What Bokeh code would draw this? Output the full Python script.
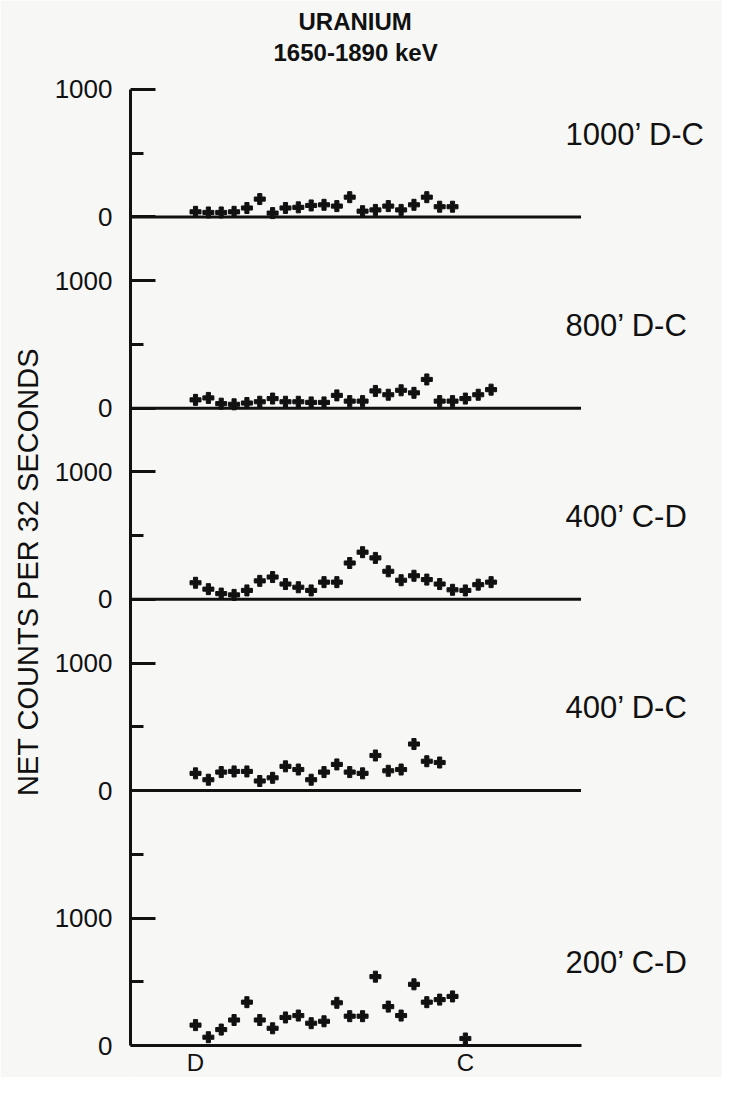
from bokeh.plotting import figure
from bokeh.models import FixedTicker, Title, Range1d
from bokeh.embed import file_html
from bokeh.resources import INLINE
from bokeh.core.properties import value

# ---- data ----
title_line1 = "URANIUM"
title_line2 = "1650-1890 keV"
y_axis_label = "NET COUNTS PER 32 SECONDS"

panel_labels = ["1000\u2019 D-C", "800\u2019 D-C", "400\u2019 C-D", "400\u2019 D-C", "200\u2019 C-D"]
panel_offsets = [6500, 5000, 3500, 2000, 0]

counts_1000_dc = [40, 35, 35, 40, 70, 140, 30, 70, 75, 90, 95, 85, 155, 45, 55, 85, 55, 95, 155, 80, 80]
counts_800_dc = [65, 80, 35, 30, 40, 50, 75, 50, 50, 45, 45, 100, 55, 55, 135, 105, 140, 120, 225, 55, 55, 75, 105, 145]
counts_400_cd = [130, 80, 45, 35, 70, 145, 175, 120, 95, 70, 135, 135, 285, 370, 325, 220, 150, 185, 155, 120, 75, 70, 115, 135]
counts_400_dc = [135, 85, 145, 150, 150, 75, 100, 190, 165, 85, 145, 205, 145, 135, 275, 155, 165, 365, 230, 220]
counts_200_cd = [160, 65, 125, 200, 340, 200, 135, 220, 235, 175, 190, 335, 230, 230, 540, 305, 235, 480, 340, 360, 385, 55]

panel_counts = [counts_1000_dc, counts_800_dc, counts_400_cd, counts_400_dc, counts_200_cd]

x_tick_positions = [0, 21]
x_tick_labels = ["D", "C"]
y_tick_label_zero = "0"
y_tick_label_top = "1000"

# ---- figure ----
FONT = "Liberation Sans"
INK = "#111111"
BG = "#f7f7f5"

x_start = -5.06
x_end = 41.01
line_end = 30.0

p = figure(width=722, height=1077, title=None,
           x_range=Range1d(x_start, x_end), y_range=Range1d(-251, 7680),
           output_backend="svg", toolbar_location=None,
           min_border_left=130, min_border_right=0,
           min_border_top=66, min_border_bottom=0)
p.background_fill_color = BG
p.border_fill_color = BG
p.outline_line_color = None
p.xgrid.visible = False
p.ygrid.visible = False

# titles (first added sits closest to the frame)
p.add_layout(Title(text=title_line2, text_font=FONT, text_font_size="24px",
                   text_font_style="bold", text_color=INK, align="left",
                   offset=143, standoff=2), "above")
p.add_layout(Title(text=title_line1, text_font=FONT, text_font_size="24px",
                   text_font_style="bold", text_color=INK, align="left",
                   offset=168, standoff=2), "above")

# y axis: one stacked axis with 0 / 1000 labels per panel
majors, minors, overrides = [], [], {}
for off in panel_offsets:
    majors += [off, off + 1000]
    minors += [off + 500]
    overrides[off] = y_tick_label_zero
    overrides[off + 1000] = y_tick_label_top
minors.append(1500)

yax = p.yaxis[0]
yax.ticker = FixedTicker(ticks=majors, minor_ticks=minors)
yax.major_label_overrides = overrides
yax.bounds = (0, 7500)
yax.axis_line_width = 3
yax.axis_line_color = INK
yax.major_tick_line_width = 3
yax.major_tick_line_color = INK
yax.minor_tick_line_width = 3
yax.minor_tick_line_color = INK
yax.major_tick_in = 25
yax.major_tick_out = 0
yax.minor_tick_in = 13
yax.minor_tick_out = 0
yax.major_label_standoff = 18
yax.major_label_text_font = FONT
yax.major_label_text_font_size = "26px"
yax.major_label_text_color = INK
yax.axis_label = y_axis_label
yax.axis_label_text_font = FONT
yax.axis_label_text_font_size = "29px"
yax.axis_label_text_font_style = "normal"
yax.axis_label_text_color = INK
yax.axis_label_standoff = 8

# x axis: D ... C, drawn on the zero line of the bottom panel
xax = p.xaxis[0]
xax.fixed_location = 0
xax.ticker = FixedTicker(ticks=x_tick_positions, minor_ticks=[])
xax.major_label_overrides = dict(zip(x_tick_positions, x_tick_labels))
xax.bounds = (x_start, line_end)
xax.axis_line_width = 3
xax.axis_line_color = INK
xax.major_tick_in = 0
xax.major_tick_out = 0
xax.minor_tick_in = 0
xax.minor_tick_out = 0
xax.major_label_standoff = 3
xax.major_label_text_font = FONT
xax.major_label_text_font_size = "24px"
xax.major_label_text_color = INK

# zero baselines of the upper panels
upper = panel_offsets[:-1]
p.segment(x0=[x_start] * len(upper), y0=upper, x1=[line_end] * len(upper), y1=upper,
          line_width=3, line_color=INK)

# data points
for off, counts in zip(panel_offsets, panel_counts):
    xs = list(range(len(counts)))
    ys = [off + c for c in counts]
    p.scatter(xs, ys, marker="plus", size=11, fill_color=INK, line_color=INK)

# panel labels on the right
p.text(x=[28.8] * len(panel_offsets), y=[off + 650 for off in panel_offsets],
       text=panel_labels, text_font=value(FONT), text_font_size="31px",
       text_color=INK, text_align="left", text_baseline="middle")

open("out.html", "w").write(file_html(p, INLINE))
